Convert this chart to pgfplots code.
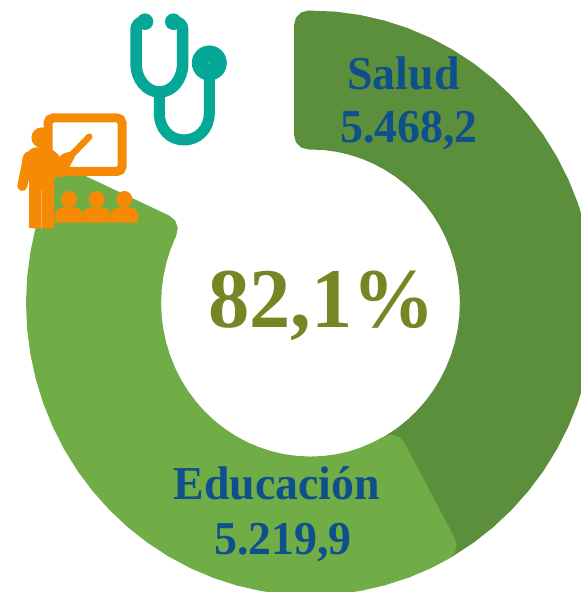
\documentclass[border=0pt]{standalone}
\usepackage{pgfplots}
\pgfplotsset{compat=1.18}
\usepackage{fontspec}
\setmainfont{Liberation Serif}
\definecolor{darkg}{HTML}{5B8F3B}
\definecolor{lightg}{HTML}{70AD47}
\definecolor{lblue}{HTML}{0F4F8C}
\definecolor{olive}{HTML}{758624}
\definecolor{teal1}{HTML}{05A896}
\definecolor{orng}{HTML}{F58A07}
\newcommand{\bigf}{\fontsize{82.5}{83}\selectfont\bfseries}
\newcommand{\labf}{\fontsize{45.8}{46}\selectfont\bfseries}
\begin{document}
\begin{tikzpicture}
\useasboundingbox (0,0) rectangle (581pt,592pt);
\begin{axis}[
  scale only axis, width=581pt, height=592pt, at={(0,0)}, anchor=south west,
  hide axis,
  xmin=-109.14, xmax=95.08, ymin=-98.80, ymax=103.59,
]
% Salud (angle, radius)
\addplot[data cs=polar, fill=darkg, draw=none] coordinates {
 (90.46,100) (85,100) (80,100) (75,100) (70,100) (65,100) (60,100) (55,100) (50,100) (45,100)
 (40,100) (35,100) (30,100) (25,100) (20,100) (15,100) (10,100) (5,100) (0,100)
 (-5,100) (-10,100) (-15,100) (-20,100) (-25,100) (-30,100) (-35,100) (-40,100) (-45,100)
 (-50,100) (-55,100) (-60,100) (-65,100) (-70,100)
 (-70,52.5) (-65,52.5) (-60,52.5) (-55,52.5) (-50,52.5) (-45,52.5) (-40,52.5) (-35,52.5) (-30,52.5)
 (-25,52.5) (-20,52.5) (-15,52.5) (-10,52.5) (-5,52.5) (0,52.5) (5,52.5) (10,52.5) (15,52.5)
 (20,52.5) (25,52.5) (30,52.5) (35,52.5) (40,52.5) (45,52.5) (50,52.5) (55,52.5) (60,52.5)
 (65,52.5) (70,52.5) (75,52.5) (80,52.5) (85,52.5) (90.87,52.5)
 (93.55,53.26) (95.33,55.23) (95.76,57.78) (93.49,95.18) (93.01,97.63) (91.90,99.38)
} -- cycle;
% Educacion (angle, radius)
\addplot[data cs=polar, fill=lightg, draw=none] coordinates {
 (154.46,100) (160,100) (165,100) (170,100) (175,100) (180,100) (185,100) (190,100) (195,100)
 (200,100) (205,100) (210,100) (215,100) (220,100) (225,100) (230,100) (235,100) (240,100)
 (245,100) (250,100) (255,100) (260,100) (265,100) (270,100) (275,100) (280,100) (285,100)
 (290,100) (295,100) (299.19,100)
 (300.63,99.39) (301.75,97.65) (302.23,95.19) (304.66,57.82) (304.24,55.27) (302.48,53.29)
 (299.7,52.5) (295,52.5) (290,52.5) (285,52.5) (280,52.5) (275,52.5) (270,52.5) (265,52.5)
 (260,52.5) (255,52.5) (250,52.5) (245,52.5) (240,52.5) (235,52.5) (230,52.5) (225,52.5)
 (220,52.5) (215,52.5) (210,52.5) (205,52.5) (200,52.5) (195,52.5) (190,52.5) (185,52.5)
 (180,52.5) (175,52.5) (170,52.5) (165,52.5) (160,52.5) (155,52.5) (153.9,52.5)
 (151.1,53.29) (149.35,55.28) (148.95,57.84) (151.45,95.2) (151.94,97.66) (153.05,99.4)
} -- cycle;
\end{axis}
\begin{scope}[x=1pt,y=-1pt,yshift=592pt]
% texts
\node[anchor=base,inner sep=0,text=olive,font=\bigf,yscale=1.03] at (321.5,328) {82,1\%};
\node[anchor=base,inner sep=0,text=lblue,font=\labf,yscale=1.03] at (403.5,90) {Salud};
\node[anchor=base,inner sep=0,text=lblue,font=\labf,yscale=1.03] at (409,143) {5.468,2};
\node[anchor=base,inner sep=0,text=lblue,font=\labf,yscale=1.03] at (277,500) {Educación};
\node[anchor=base,inner sep=0,text=lblue,font=\labf,yscale=1.03] at (283,555) {5.219,9};
% stethoscope
\draw[teal1,line width=11.5pt,line cap=round,line join=round]
  (145,21.7) .. controls (140,21.7) and (136,24) .. (136,30) -- (136,63)
  .. controls (136,80) and (147,92) .. (159.5,92)
  .. controls (172,92) and (182.7,80) .. (182.7,63) -- (182.7,30)
  .. controls (182.7,24) and (179,21.7) .. (173.3,21.7);
\fill[teal1] (145,21.7) circle[radius=8.3pt];
\fill[teal1] (173.3,21.7) circle[radius=8.3pt];
\draw[teal1,line width=11pt,line cap=butt]
  (159.3,92) -- (159.3,113) .. controls (159.3,129) and (170,140) .. (184,140)
  .. controls (198,140) and (209.3,129) .. (209.3,113) -- (209.3,70);
\fill[teal1] (209.3,63) circle[radius=17.5pt];
\fill[teal1!60!white] (209.3,63) circle[radius=0.9pt];
% teacher board
\draw[orng,line width=9pt,rounded corners=5pt] (48,118) rectangle (122,171.5);
% teacher
\fill[orng] (41.7,137.7) circle[radius=10.3pt];
\fill[orng,rounded corners=3pt] (22.5,156) -- (33,147.5) -- (50,147.5) -- (60,156)
  -- (64,172) -- (54,178) -- (54,228.3) -- (29.3,228.3) -- (29.3,180) -- (22,180) -- cycle;
\fill[orng] (54,178) -- (54,228.3) -- (29.3,228.3) -- (29.3,178) -- cycle;
\fill[orng,rounded corners=3pt] (59,157) -- (63.3,153.3) -- (71,151.5) -- (76,155) -- (63.5,177.5) -- (58,178) -- cycle;
\draw[white,opacity=.35,line width=.5pt] (41.7,190) -- (41.7,228.3);
\draw[orng,line width=10pt,line cap=round] (28.3,156.7) -- (22.3,186);
\draw[orng,line width=6.5pt,line cap=round] (70,156.7) -- (89.3,136.7);
% audience
\foreach \d in {0,27.7,55.3}{
  \fill[orng] (69+\d,199) circle[radius=8pt];
  \fill[orng] (55+\d,222.7) -- (55+\d,214) .. controls (55+\d,209) and (62+\d,206.5) .. (69+\d,206.5)
    .. controls (76+\d,206.5) and (82.7+\d,209) .. (82.7+\d,214) -- (82.7+\d,222.7) -- cycle;
}
\end{scope}
\end{tikzpicture}
\end{document}
